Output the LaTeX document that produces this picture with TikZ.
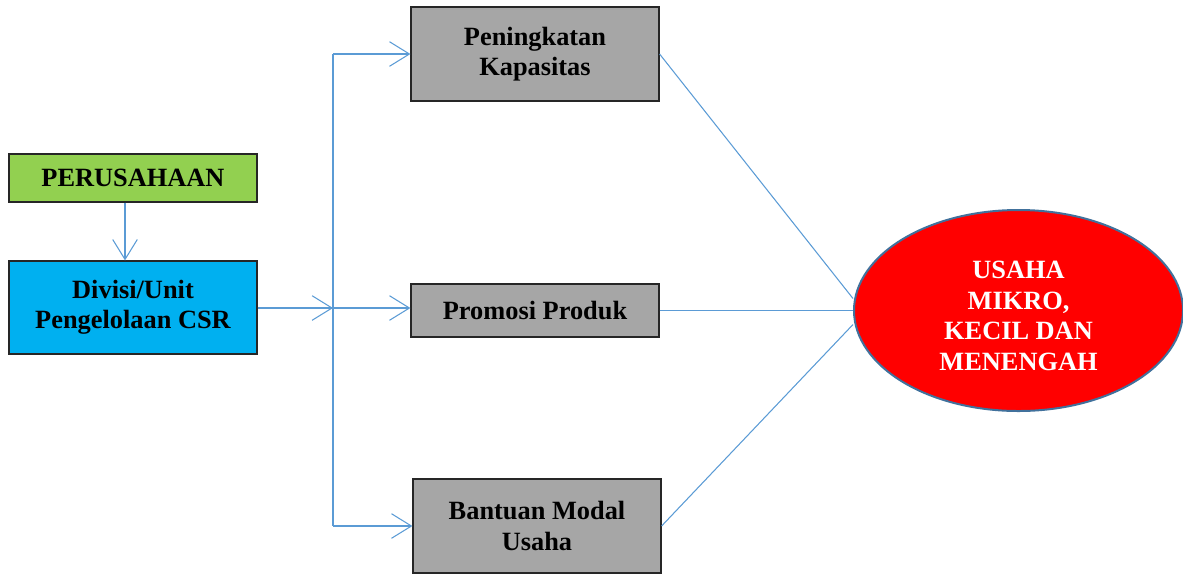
\documentclass[tikz,border=0pt]{standalone}
\usepackage{fontspec}
\setmainfont{Liberation Serif}
\usetikzlibrary{arrows.meta,calc}
\usetikzlibrary{positioning,shapes.geometric}
\definecolor{linkblue}{HTML}{5B9BD5}
\definecolor{boxgreen}{HTML}{92D050}
\definecolor{boxcyan}{HTML}{00B0F0}
\definecolor{boxgray}{HTML}{A6A6A6}
\definecolor{rimblue}{HTML}{41719C}
\tikzstyle{box}=[rectangle,draw=black!85,line width=1pt,minimum width=7.44cm,
  inner sep=2pt,align=center,font=\fontsize{22.5}{26}\selectfont\bfseries]
\tikzstyle{link}=[draw=linkblue,line width=0.9pt]
\tikzstyle{flow}=[link,-{Straight Barb[length=17pt,width=21pt]}]

\begin{document}
\begin{tikzpicture}[x=0.03cm,y=-0.03cm]
  \useasboundingbox (0,0) rectangle (1183,574);

  % left column
  \node[box,fill=boxgreen,minimum height=1.44cm] (perusahaan) at (133,178)
  {PERUSAHAAN};
  \node[box,fill=boxcyan,minimum height=2.79cm] (divisi) at (133,307.5)
  {Divisi/Unit\\Pengelolaan CSR};

  % programmes
  \node[box,fill=boxgray,minimum height=2.82cm] (kapasitas) at (535,54)
  {Peningkatan\\Kapasitas};
  \node[box,fill=boxgray,minimum height=1.59cm] (promosi) at (535,310.5)
  {Promosi Produk};
  \node[box,fill=boxgray,minimum height=2.82cm] (modal) at (537,526)
  {Bantuan Modal\\Usaha};

  % target
  \node[ellipse,draw=rimblue,line width=1.7pt,fill=red,text=white,
  minimum width=9.87cm,minimum height=6.03cm,align=center,
  font=\fontsize{22.5}{26}\selectfont\bfseries] (umkm) at (1018.5,310.5)
  {\rule{0pt}{0.85cm}USAHA\\MIKRO,\\KECIL DAN\\MENENGAH};

  % split point
  \coordinate (split) at (333,308);

  \draw[flow] ([xshift=-0.24cm]perusahaan.south) -- ([xshift=-0.24cm]divisi.north);
  \draw[flow] (divisi.east |- split) -- (split);
  \draw[link] (split |- kapasitas.west) -- (split |- modal.west);
  \draw[flow] (split |- kapasitas.west) -- (kapasitas.west);
  \draw[flow] (split) -- (split -| promosi.west);
  \draw[flow] (split |- modal.west) -- (modal.west);

  % into the ellipse
  \draw[link] (kapasitas.east) -- ([yshift=0.36cm]umkm.west);
  \draw[link] (promosi.east) -- (umkm.west);
  \draw[link] (modal.east) -- ([yshift=-0.42cm]umkm.west);

\end{tikzpicture}
\end{document}
